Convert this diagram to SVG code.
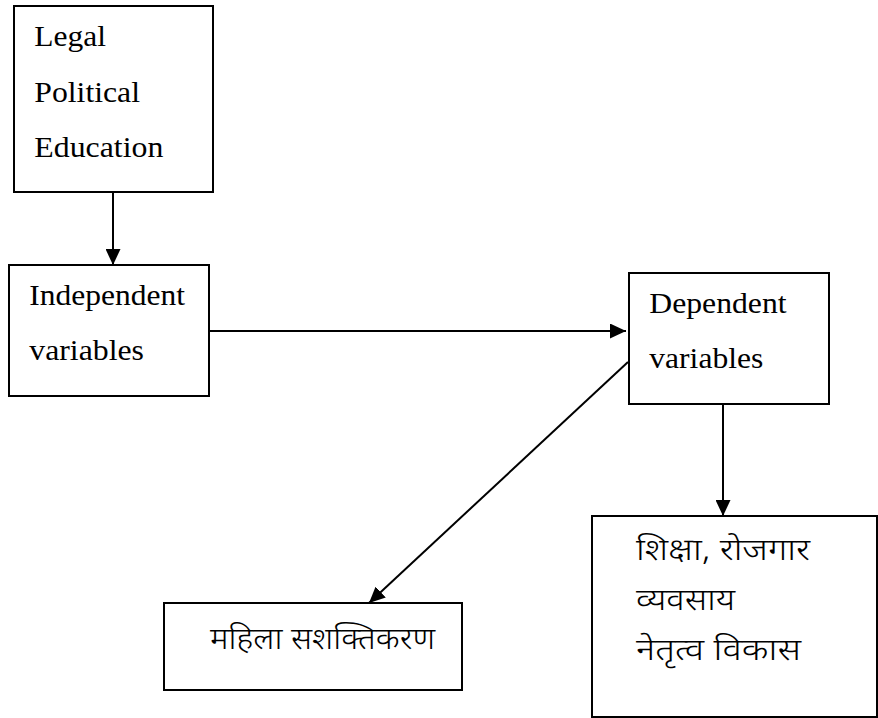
<svg xmlns="http://www.w3.org/2000/svg" width="878" height="718" viewBox="0 0 878 718">
<defs>
<style>
.box{fill:#fff;stroke:#000;stroke-width:2}
.t{font-family:"Liberation Serif","Times New Roman",serif;font-size:29.5px;fill:#000}
.h{font-family:"Noto Sans Devanagari","Lohit Devanagari","FreeSans","Noto Sans",sans-serif;font-size:31px;font-weight:300;fill:#000}
.c{stroke:#000;stroke-width:2;fill:none}
</style>
<marker id="arr" markerWidth="16" markerHeight="15" refX="16" refY="7.5" orient="auto" markerUnits="userSpaceOnUse">
<path d="M0,0 L16,7.5 L0,15 Z" fill="#000"/>
</marker>
</defs>
<rect width="878" height="718" fill="#fff"/>
<g id="connectors">
<line class="c" x1="113" y1="193" x2="113" y2="265" marker-end="url(#arr)"/>
<line class="c" x1="209" y1="331" x2="626" y2="331" marker-end="url(#arr)"/>
<line class="c" x1="628" y1="362" x2="369" y2="603" marker-end="url(#arr)"/>
<line class="c" x1="723" y1="405" x2="723" y2="516" marker-end="url(#arr)"/>
</g>
<g id="node-legal">
<rect class="box" x="14" y="6" width="199" height="186"/>
<text class="t" x="34.3" y="45.5" textLength="71.7" lengthAdjust="spacingAndGlyphs">Legal</text>
<text class="t" x="34.3" y="101.5" textLength="105.7" lengthAdjust="spacingAndGlyphs">Political</text>
<text class="t" x="34.3" y="156.5" textLength="129" lengthAdjust="spacingAndGlyphs">Education</text>
</g>
<g id="node-independent">
<rect class="box" x="9" y="265" width="200" height="131"/>
<text class="t" x="29.3" y="305" textLength="155.7" lengthAdjust="spacingAndGlyphs">Independent</text>
<text class="t" x="29.3" y="360" textLength="114.7" lengthAdjust="spacingAndGlyphs">variables</text>
</g>
<g id="node-dependent">
<rect class="box" x="629" y="273" width="200" height="131"/>
<text class="t" x="649.3" y="313" textLength="137.3" lengthAdjust="spacingAndGlyphs">Dependent</text>
<text class="t" x="649.3" y="368" textLength="114" lengthAdjust="spacingAndGlyphs">variables</text>
</g>
<g id="node-empowerment">
<rect class="box" x="164" y="603" width="298" height="87"/>
<text class="h" x="210" y="649" textLength="225" lengthAdjust="spacingAndGlyphs">महिला सशक्तिकरण</text>
</g>
<g id="node-outcomes">
<rect class="box" x="592" y="516" width="285" height="201"/>
<text class="h" x="636" y="560" textLength="174" lengthAdjust="spacingAndGlyphs">शिक्षा, रोजगार</text>
<text class="h" x="636" y="610" textLength="99" lengthAdjust="spacingAndGlyphs">व्यवसाय</text>
<text class="h" x="636" y="660" textLength="165" lengthAdjust="spacingAndGlyphs">नेतृत्व विकास</text>
</g>
</svg>
